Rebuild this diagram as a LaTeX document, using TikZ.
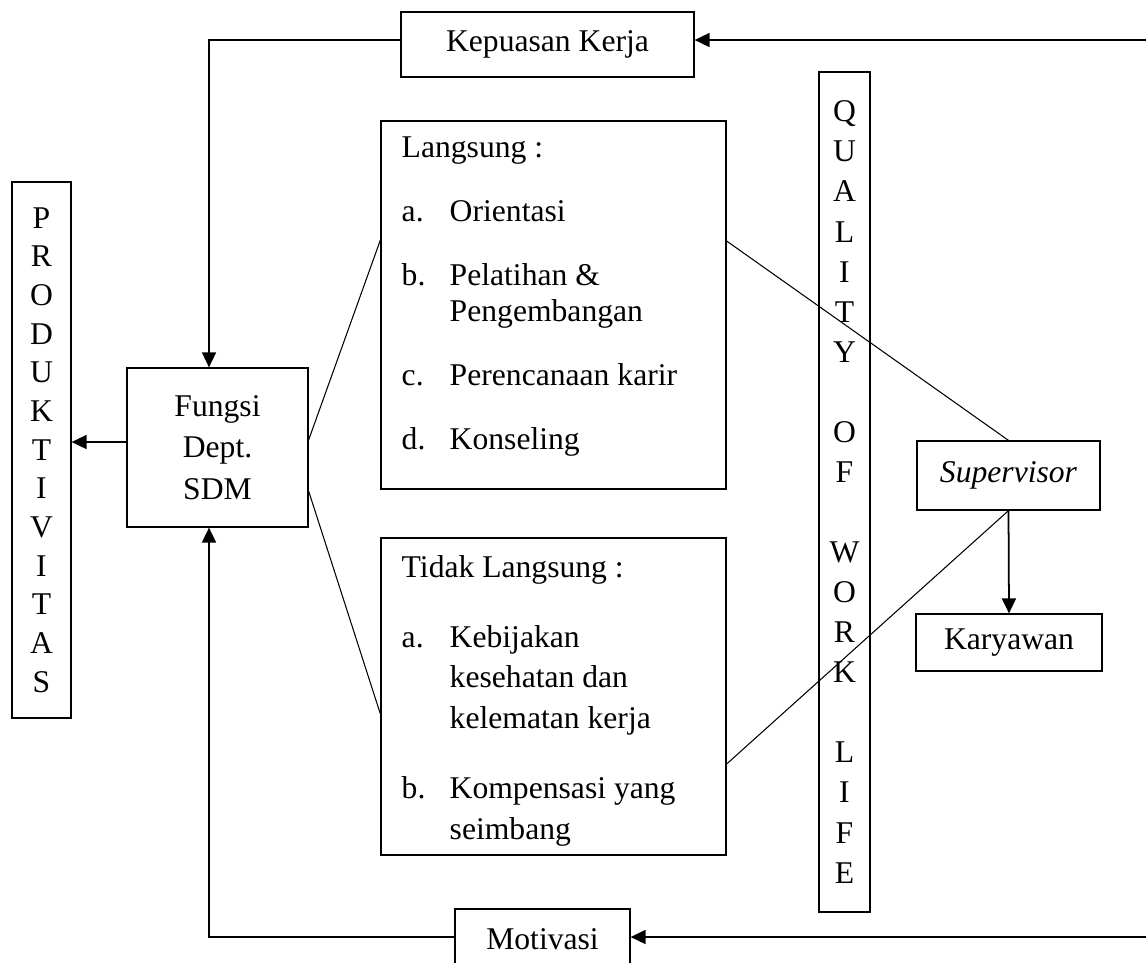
\documentclass[tikz,border=0pt]{standalone}
\usepackage{fontspec}
\setmainfont{Liberation Serif}
\usetikzlibrary{arrows.meta, positioning, calc}

\begin{document}
\begin{tikzpicture}[
    box/.style={draw, line width=0.7pt, inner sep=0pt, font=\fontsize{18}{22}\selectfont},
    arr/.style={-{Triangle[length=0.3cm,width=0.28cm]}, line width=1pt},
    link/.style={line width=0.6pt}]
    \useasboundingbox (0,0) rectangle (22.92,-19.24);

    % Kepuasan Kerja
    \node[box,minimum width=5.86cm,minimum height=1.3cm] (kepuasan) at (10.95,-0.89) {Kepuasan Kerja};

    % Produktivitas
    \node[box,minimum width=1.18cm,minimum height=10.72cm,align=center,font=\fontsize{18}{22}\selectfont] (produktivitas) at (0.83,-9.0) {P\\R\\O\\D\\U\\K\\T\\I\\V\\I\\T\\A\\S};

    % Fungsi Dept. SDM
    \node[box,minimum width=3.62cm,minimum height=3.18cm,align=center,font=\fontsize{18}{23.8}\selectfont] (fungsi) at (4.35,-8.95) {Fungsi\\Dept.\\SDM};

    % Langsung
    \node[box,minimum width=6.9cm,minimum height=7.36cm] (langsung) at (11.07,-6.1) {};
    \node[anchor=base west,inner sep=0pt,font=\fontsize{18}{20.5}\selectfont] (langsungtxt) at ([shift={(0.42,-0.74)}]langsung.north west) {%
        \begin{tabular}[t]{@{}p{0.96cm}@{}l@{}}
            \multicolumn{2}{@{}l@{}}{Langsung :}\\[0.56cm]
            a. & Orientasi\\[0.56cm]
            b. & Pelatihan \&\\
               & Pengembangan\\[0.56cm]
            c. & Perencanaan karir\\[0.56cm]
            d. & Konseling
        \end{tabular}};

    % Tidak Langsung
    \node[box,minimum width=6.9cm,minimum height=6.34cm] (tidak) at (11.07,-13.93) {};
    \node[anchor=base west,inner sep=0pt,font=\fontsize{18}{23.2}\selectfont] (tidaktxt) at ([shift={(0.42,-0.8)}]tidak.north west) {%
        \begin{tabular}[t]{@{}p{0.96cm}@{}l@{}}
            \multicolumn{2}{@{}l@{}}{Tidak Langsung :}\\[0.58cm]
            a. & Kebijakan\\
               & kesehatan dan\\
               & kelematan kerja\\[0.58cm]
            b. & Kompensasi yang\\
               & seimbang
        \end{tabular}};

    % Quality of work life
    \node[box,minimum width=1.02cm,minimum height=16.8cm,align=center,font=\fontsize{18}{22.8}\selectfont] (qwl) at (16.89,-9.84) {Q\\U\\A\\L\\I\\T\\Y\\\mbox{}\\O\\F\\\mbox{}\\W\\O\\R\\K\\\mbox{}\\L\\I\\F\\E};

    % Supervisor and Karyawan
    \node[box,minimum width=3.66cm,minimum height=1.38cm] (supervisor) at (20.17,-9.51) {\itshape Supervisor};
    \node[box,minimum width=3.72cm,minimum height=1.14cm] (karyawan) at (20.18,-12.85) {Karyawan};

    % Motivasi
    \node[box,minimum width=3.5cm,minimum height=1.2cm] (motivasi) at (10.85,-18.78) {Motivasi};

    % Arrows
    \coordinate (kepin) at (22.92,-0.8);
    \draw[arr] (kepin) -- (kepin -| kepuasan.east);
    \draw[arr] (kepuasan.west |- kepin) -| ($(fungsi.north)+(-0.17,0)$);
    \coordinate (fungsiout) at ([yshift=0.11cm]fungsi.west);
    \draw[arr] (fungsiout) -- (fungsiout -| produktivitas.east);
    \coordinate (motin) at (22.92,-18.74);
    \draw[arr] (motin) -- (motin -| motivasi.east);
    \draw[arr] (motivasi.west |- motin) -| ($(fungsi.south)+(-0.17,0)$);
    \draw[arr] (supervisor.south) -- (karyawan.north);

    % Links
    \draw[link] ([yshift=0.15cm]fungsi.east) -- ([yshift=1.3cm]langsung.west);
    \draw[link] ([yshift=-0.87cm]fungsi.east) -- ([yshift=-0.35cm]tidak.west);
    \draw[link] ([yshift=1.28cm]langsung.east) -- (supervisor.north);
    \draw[link] ([yshift=-1.35cm]tidak.east) -- (supervisor.south);
\end{tikzpicture}
\end{document}
